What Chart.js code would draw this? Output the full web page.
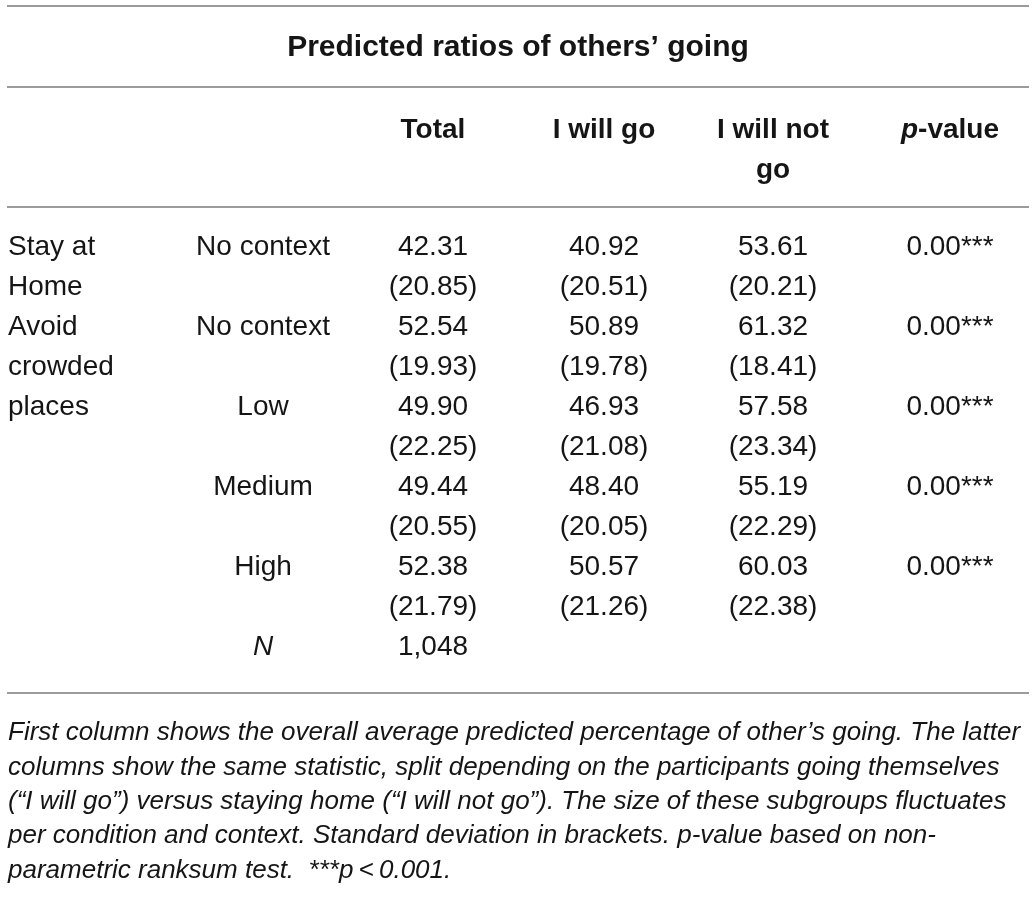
<!DOCTYPE html>
<html>
<head>
<meta charset="utf-8">
<style>
  html, body { margin: 0; padding: 0; background: #fff; }
  canvas { display: block; }
</style>
<script src="https://cdn.jsdelivr.net/npm/chart.js@4/dist/chart.umd.min.js"></script>
</head>
<body>
<canvas id="myChart" width="1036" height="897"></canvas>
<script>
const title = "Predicted ratios of others’ going";
const headers = [["Total"], ["I will go"], ["I will not", "go"], ["p-value"]];
const conditions = [["Stay at", "Home"], ["Avoid", "crowded", "places"]];
const contexts = ["No context", "No context", "Low", "Medium", "High"];
const totalMean = [42.31, 52.54, 49.9, 49.44, 52.38];
const totalSd = [20.85, 19.93, 22.25, 20.55, 21.79];
const goMean = [40.92, 50.89, 46.93, 48.4, 50.57];
const goSd = [20.51, 19.78, 21.08, 20.05, 21.26];
const notGoMean = [53.61, 61.32, 57.58, 55.19, 60.03];
const notGoSd = [20.21, 18.41, 23.34, 22.29, 22.38];
const pValues = [0.0, 0.0, 0.0, 0.0, 0.0];
const sampleSize = 1048;
const footnote = [
  "First column shows the overall average predicted percentage of other’s going. The latter",
  "columns show the same statistic, split depending on the participants going themselves",
  "(“I will go”) versus staying home (“I will not go”). The size of these subgroups fluctuates",
  "per condition and context. Standard deviation in brackets. p-value based on non-",
  "parametric ranksum test.  ***p\u2009<\u20090.001.",
];

// layout (x in page px, y in text-line units)
const LEFT = 8;
const COLS = [263, 433, 604, 773, 950];
const RULES = [-6.025, -4, -1, 11.15];
const FONT = '"Liberation Sans", Arial, sans-serif';

function stars(p) {
  if (p < 0.001) return "***";
  if (p < 0.01) return "**";
  if (p < 0.05) return "*";
  return "";
}

const tablePlugin = {
  id: "table",
  afterDraw(chart) {
    const ctx = chart.ctx;
    const x = chart.scales.x;
    const y = chart.scales.y;
    ctx.save();
    ctx.textBaseline = "middle";
    ctx.fillStyle = "#151515";

    // rules
    ctx.strokeStyle = "#9b9b9b";
    ctx.lineWidth = 2;
    RULES.forEach((r) => {
      ctx.beginPath();
      ctx.moveTo(x.getPixelForValue(7), y.getPixelForValue(r));
      ctx.lineTo(x.getPixelForValue(1029), y.getPixelForValue(r));
      ctx.stroke();
    });

    // title
    ctx.font = "bold 30px " + FONT;
    ctx.textAlign = "center";
    ctx.fillText(title, x.getPixelForValue(518), y.getPixelForValue(-4.975));

    // headers
    headers.forEach((lines, i) => {
      lines.forEach((t, j) => {
        const cx = x.getPixelForValue(COLS[i + 1]);
        const cy = y.getPixelForValue(-2.93 + j);
        if (t === "p-value") {
          ctx.font = "italic bold 28px " + FONT;
          const w1 = ctx.measureText("p").width;
          ctx.font = "bold 28px " + FONT;
          const w2 = ctx.measureText("-value").width;
          const sx = cx - (w1 + w2) / 2;
          ctx.textAlign = "left";
          ctx.font = "italic bold 28px " + FONT;
          ctx.fillText("p", sx, cy);
          ctx.font = "bold 28px " + FONT;
          ctx.fillText("-value", sx + w1, cy);
        } else {
          ctx.font = "bold 28px " + FONT;
          ctx.textAlign = "center";
          ctx.fillText(t, cx, cy);
        }
      });
    });

    // condition labels
    ctx.font = "28px " + FONT;
    ctx.textAlign = "left";
    let row = 0;
    conditions.forEach((lines, i) => {
      lines.forEach((t, j) => {
        ctx.fillText(t, x.getPixelForValue(LEFT), y.getPixelForValue(row + j));
      });
      row += i === 0 ? 2 : 0;
    });

    // body cells
    ctx.textAlign = "center";
    contexts.forEach((c, i) => {
      const r = i * 2;
      ctx.fillText(c, x.getPixelForValue(COLS[0]), y.getPixelForValue(r));
      [
        [totalMean, totalSd],
        [goMean, goSd],
        [notGoMean, notGoSd],
      ].forEach(([m, s], k) => {
        ctx.fillText(m[i].toFixed(2), x.getPixelForValue(COLS[k + 1]), y.getPixelForValue(r));
        ctx.fillText("(" + s[i].toFixed(2) + ")", x.getPixelForValue(COLS[k + 1]), y.getPixelForValue(r + 1));
      });
      ctx.fillText(pValues[i].toFixed(2) + stars(pValues[i]), x.getPixelForValue(COLS[4]), y.getPixelForValue(r));
    });

    // N row
    ctx.font = "italic 28px " + FONT;
    ctx.fillText("N", x.getPixelForValue(COLS[0]), y.getPixelForValue(10));
    ctx.font = "28px " + FONT;
    ctx.fillText(sampleSize.toLocaleString("en-US"), x.getPixelForValue(COLS[1]), y.getPixelForValue(10));

    // footnote
    ctx.font = "italic 26px " + FONT;
    ctx.textAlign = "left";
    footnote.forEach((t, i) => {
      ctx.fillText(t, x.getPixelForValue(LEFT), y.getPixelForValue(12.15 + i * 0.86));
    });
    ctx.restore();
  },
};

const config = {
  type: "scatter",
  data: { datasets: [{ data: [] }] },
  options: {
    responsive: false,
    animation: false,
    layout: { padding: 0 },
    plugins: { legend: { display: false }, tooltip: { enabled: false } },
    scales: {
      x: { type: "linear", min: 0, max: 1036, display: false },
      y: { type: "linear", min: -6.175, max: 16.25, reverse: true, display: false },
    },
  },
  plugins: [tablePlugin],
};

var myChart = new Chart(document.getElementById("myChart"), config);
</script>
</body>
</html>
